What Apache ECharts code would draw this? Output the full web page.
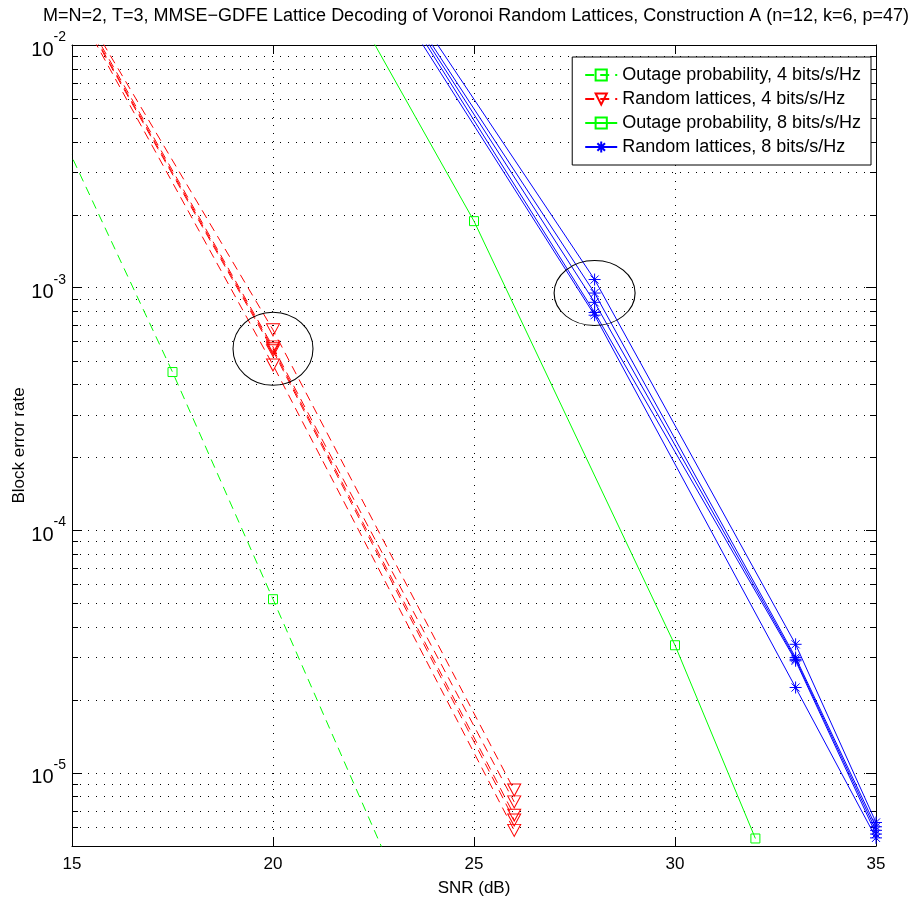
<!DOCTYPE html>
<html>
<head>
<meta charset="utf-8">
<script src="https://cdn.jsdelivr.net/npm/echarts@6/dist/echarts.min.js"></script>
<style>
html,body{margin:0;padding:0;background:#fff;}
#c{width:919px;height:909px;}
</style>
</head>
<body>
<div id="c"></div>
<script>
// ---------- data ----------
const titleText = 'M=N=2, T=3, MMSE\u2212GDFE Lattice Decoding of Voronoi Random Lattices, Construction A (n=12, k=6, p=47)';
const names = [
  'Outage probability, 4 bits/s/Hz',
  'Random lattices, 4 bits/s/Hz',
  'Outage probability, 8 bits/s/Hz',
  'Random lattices, 8 bits/s/Hz'
];

// Outage probability, 4 bits/s/Hz (green dashed)
const snrOut4 = [12.5, 17.5, 20, 25];
const out4 = [2.65e-2, 4.49e-4, 5.2e-5, 6.7e-7];

// Random lattices, 4 bits/s/Hz (red dashed, several lattices)
const snrRand4 = [15, 20, 26];
const rand4a = [1.67e-2, 6.7e-4, 8.5e-6];
const rand4b = [1.62e-2, 5.7e-4, 7.6e-6];
const rand4c = [1.58e-2, 5.6e-4, 6.7e-6];
const rand4d = [1.56e-2, 5.5e-4, 6.4e-6];
const rand4e = [1.53e-2, 4.8e-4, 5.8e-6];

// Outage probability, 8 bits/s/Hz (green solid)
const snrOut8 = [20, 25, 30, 32];
const out8 = [5.6e-2, 1.88e-3, 3.36e-5, 5.37e-6];

// Random lattices, 8 bits/s/Hz (blue solid, several lattices)
const snrRand8 = [23, 28, 33, 35];
const rand8a = [1.87e-2, 1.08e-3, 3.39e-5, 6.25e-6];
const rand8b = [1.75e-2, 9.5e-4, 2.99e-5, 6.0e-6];
const rand8c = [1.70e-2, 8.7e-4, 2.94e-5, 5.8e-6];
const rand8d = [1.65e-2, 7.9e-4, 2.9e-5, 5.6e-6];
const rand8e = [1.55e-2, 7.7e-4, 2.25e-5, 5.4e-6];

// annotation ellipses (centre in data units)
const ellipse4 = [20, 5.6e-4];
const ellipse8 = [28, 9.5e-4];

// minor grid values on the log axis
const minorGrid = [
  6e-6, 7e-6, 8e-6, 9e-6,
  2e-5, 3e-5, 4e-5, 5e-5, 6e-5, 7e-5, 8e-5, 9e-5,
  2e-4, 3e-4, 4e-4, 5e-4, 6e-4, 7e-4, 8e-4, 9e-4,
  2e-3, 3e-3, 4e-3, 5e-3, 6e-3, 7e-3, 8e-3, 9e-3
];
const xMin = 15, xMax = 35, yMin = 5e-6, yMax = 1e-2;

// ---------- styles ----------
const GREEN = '#00ff00', RED = '#ff0000', BLUE = '#0000ff';
const FONT = '"Liberation Sans", Arial, Helvetica, sans-serif';
const starPath = 'path://M5,0L5,10M0,5L10,5M1.6,1.6L8.4,8.4M8.4,1.6L1.6,8.4';
const dotted = {color: '#000', width: 1, type: [1, 7]};

function pairs(xs, ys) { return xs.map((x, i) => [x, ys[i]]); }

function makeLine(name, xs, ys, color, dashed, symbol, size, rotate) {
  return {
    name: name, type: 'line', data: pairs(xs, ys),
    symbol: symbol, symbolSize: size, symbolRotate: rotate || 0,
    showAllSymbol: true, clip: true, z: 3,
    lineStyle: {color: color, width: 1, type: dashed ? [9, 6] : 'solid'},
    itemStyle: {color: 'rgba(0,0,0,0)', borderColor: color, borderWidth: 1},
    emphasis: {disabled: true}, animation: false
  };
}

// minor grid (dotted) with short inward ticks on both sides, through the y scale
const minorGridSeries = {
  name: '__minor', type: 'custom', silent: true, z: 1, clip: false,
  data: minorGrid.map(v => [xMin, v]),
  encode: {x: 0, y: 1},
  renderItem: function (params, api) {
    const cs = params.coordSys;
    const y = Math.round(api.coord([api.value(0), api.value(1)])[1]) + 0.5;
    const x0 = cs.x, x1 = cs.x + cs.width, tick = 6;
    return {
      type: 'group',
      children: [
        {type: 'line', shape: {x1: x0, y1: y, x2: x1, y2: y},
         style: {stroke: '#000', lineWidth: 1, lineDash: [1, 7]}},
        {type: 'line', shape: {x1: x0, y1: y, x2: x0 + tick, y2: y},
         style: {stroke: '#000', lineWidth: 1}},
        {type: 'line', shape: {x1: x1 - tick, y1: y, x2: x1, y2: y},
         style: {stroke: '#000', lineWidth: 1}}
      ]
    };
  },
  animation: false
};

const series = [
  minorGridSeries,
  makeLine(names[0], snrOut4, out4, GREEN, true, 'rect', 9),
  makeLine(names[1], snrRand4, rand4a, RED, true, 'triangle', [13, 12], 180),
  makeLine(names[1], snrRand4, rand4b, RED, true, 'triangle', [13, 12], 180),
  makeLine(names[1], snrRand4, rand4c, RED, true, 'triangle', [13, 12], 180),
  makeLine(names[1], snrRand4, rand4d, RED, true, 'triangle', [13, 12], 180),
  makeLine(names[1], snrRand4, rand4e, RED, true, 'triangle', [13, 12], 180),
  makeLine(names[2], snrOut8, out8, GREEN, false, 'rect', 9),
  makeLine(names[3], snrRand8, rand8a, BLUE, false, starPath, 12),
  makeLine(names[3], snrRand8, rand8b, BLUE, false, starPath, 12),
  makeLine(names[3], snrRand8, rand8c, BLUE, false, starPath, 12),
  makeLine(names[3], snrRand8, rand8d, BLUE, false, starPath, 12),
  makeLine(names[3], snrRand8, rand8e, BLUE, false, starPath, 12)
];

// ellipses, attached to the last series
series[series.length - 1].markPoint = {
  silent: true, animation: false, label: {show: false},
  data: [
    {coord: ellipse4, symbol: 'circle', symbolSize: [80, 73],
     itemStyle: {color: 'rgba(0,0,0,0)', borderColor: '#000', borderWidth: 1}},
    {coord: ellipse8, symbol: 'circle', symbolSize: [81, 65],
     itemStyle: {color: 'rgba(0,0,0,0)', borderColor: '#000', borderWidth: 1}}
  ]
};

function yLabel(v) {
  const l = Math.log10(v), e = Math.round(l);
  if (Math.abs(l - e) > 1e-6) return '';
  return '{b|10}{s|' + e + '}';
}

const axisLine = {show: true, onZero: false, lineStyle: {color: '#000', width: 1}};
const option = {
  backgroundColor: '#fff',
  animation: false,
  textStyle: {fontFamily: FONT},
  title: {
    text: titleText, left: 471, top: 2, textAlign: 'center',
    textStyle: {fontFamily: FONT, fontSize: 18, fontWeight: 'normal', color: '#000'}
  },
  grid: {left: 72, right: 43, top: 45, bottom: 63, containLabel: false, outerBoundsMode: 'none'},
  legend: {
    data: names, orient: 'vertical', right: 48, top: 57,
    backgroundColor: '#fff', borderColor: '#000', borderWidth: 1, borderRadius: 0,
    padding: [9, 10, 9, 12], itemGap: 6, itemWidth: 32, itemHeight: 14,
    textStyle: {fontFamily: FONT, fontSize: 18, color: '#000'},
    selectedMode: false
  },
  xAxis: [{
    type: 'value', min: xMin, max: xMax, interval: 5,
    name: 'SNR (dB)', nameLocation: 'middle', nameGap: 34, nameMoveOverlap: false,
    nameTextStyle: {fontFamily: FONT, fontSize: 17, color: '#000'},
    axisLine: axisLine,
    axisTick: {show: true, inside: true, length: 8, lineStyle: {color: '#000'}},
    axisLabel: {fontFamily: FONT, fontSize: 17, color: '#000', margin: 10},
    splitLine: {show: true, lineStyle: dotted}
  }, {
    type: 'value', min: xMin, max: xMax, interval: 5, position: 'top',
    axisLine: axisLine,
    axisTick: {show: true, inside: true, length: 8, lineStyle: {color: '#000'}},
    axisLabel: {show: false}, splitLine: {show: false}
  }],
  yAxis: [{
    type: 'log', logBase: 10, min: yMin, max: yMax,
    name: 'Block error rate', nameLocation: 'middle', nameGap: 44, nameMoveOverlap: false,
    nameTextStyle: {fontFamily: FONT, fontSize: 17, color: '#000'},
    axisLine: axisLine,
    axisTick: {show: true, inside: true, length: 10, lineStyle: {color: '#000'}},
    axisLabel: {
      formatter: yLabel, margin: 6, color: '#000',
      rich: {
        b: {fontFamily: FONT, fontSize: 20, color: '#000', verticalAlign: 'bottom', lineHeight: 30},
        s: {fontFamily: FONT, fontSize: 14, color: '#000', verticalAlign: 'top'}
      }
    },
    splitLine: {show: true, lineStyle: dotted}
  }, {
    type: 'log', logBase: 10, min: yMin, max: yMax, position: 'right',
    axisLine: axisLine,
    axisTick: {show: true, inside: true, length: 10, lineStyle: {color: '#000'}},
    axisLabel: {show: false}, splitLine: {show: false}
  }],
  series: series
};

const chart = echarts.init(document.getElementById('c'), null, {renderer: 'canvas'});
chart.setOption(option);
</script>
</body>
</html>
